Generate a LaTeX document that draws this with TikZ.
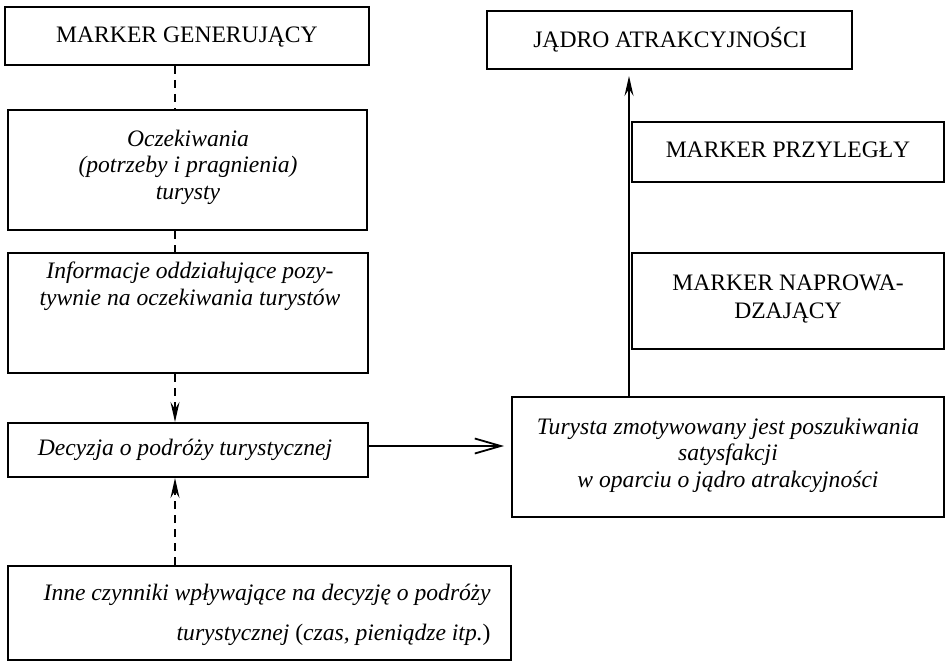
\documentclass[tikz,border=0pt]{standalone}
\usepackage{fontspec}
\setmainfont{Liberation Serif}
\usetikzlibrary{arrows.meta}
\newcommand\tstrut{\rule{0pt}{12pt}}
\begin{document}
\begin{tikzpicture}[x=0.5pt,y=-0.5pt,
  box/.style={draw, line width=1pt, fill=white, inner sep=0pt},
  txt/.style={inner sep=0pt, align=center, anchor=north},
  lsk/.style={font=\fontsize{11.8}{#1}\selectfont},
  dashline/.style={line width=0.9pt, dash pattern=on 4pt off 3pt},
  solidline/.style={line width=0.9pt},
  tipa/.style={-{Stealth[length=10pt,width=4.5pt,inset=3.5pt]}},
  tipb/.style={-{Straight Barb[length=13pt,width=7.5pt]}}]
\useasboundingbox (0,0) rectangle (945,663);
% boxes
\node[box, minimum width=182pt, minimum height=29pt] (gen) at (187,36) {};
\node[box, minimum width=179.5pt, minimum height=60pt] (ocz) at (187.5,170) {};
\node[box, minimum width=180pt, minimum height=60pt] (inf) at (188,313) {};
\node[box, minimum width=180pt, minimum height=27pt] (dec) at (188,450) {};
\node[box, minimum width=251.5pt, minimum height=47pt] (inne) at (259.5,613) {};
\node[box, minimum width=182.5pt, minimum height=29pt] (jad) at (669.5,40) {};
\node[box, minimum width=156pt, minimum height=30pt] (prz) at (788,152) {};
\node[box, minimum width=156pt, minimum height=48pt] (nap) at (788,301) {};
\node[box, minimum width=216pt, minimum height=60pt] (tur) at (728,457) {};
% texts
\node[txt, lsk=14] (genT) at (187,18) {\tstrut MARKER GENERUJĄCY};
\node[txt, lsk=13.25] (oczT) at (188,122) {\tstrut\itshape Oczekiwania\\\itshape (potrzeby i pragnienia)\\\itshape turysty};
\node[txt, lsk=13.5] (infT) at (190,254) {\tstrut\itshape Informacje oddziałujące pozy-\\\itshape tywnie na oczekiwania turystów};
\node[txt, lsk=14] (decT) at (185,431) {\tstrut\itshape Decyzja o podróży turystycznej};
\node[txt, lsk=20, align=right, anchor=north east] (inneT) at (491,576) {\tstrut\itshape Inne czynniki wpływające na decyzję o podróży\\\itshape turystycznej \textup{(}czas, pieniądze itp.\textup{)}};
\node[txt, lsk=14] (jadT) at (670,23) {\tstrut JĄDRO ATRAKCYJNOŚCI};
\node[txt, lsk=14] (przT) at (788,133) {\tstrut MARKER PRZYLEGŁY};
\node[txt, lsk=14] (napT) at (788,266) {\tstrut MARKER NAPROWA-\\DZAJĄCY};
\node[txt, lsk=13.25] (turT) at (728,410) {\tstrut\itshape Turysta zmotywowany jest poszukiwania\\\itshape satysfakcji\\\itshape w oparciu o jądro atrakcyjności};
% connectors
\coordinate (xl) at (175,0);
\coordinate (xr) at (629,0);
\draw[dashline] (gen.south -| xl) -- (ocz.north -| xl);
\draw[dashline] (ocz.south -| xl) -- (inf.north -| xl);
\draw[dashline, tipa] (inf.south -| xl) -- (dec.north -| xl);
\draw[dashline, tipa] (inne.north -| xl) -- (dec.south -| xl);
\draw[solidline, tipb, shorten >=3.5pt] ([yshift=2pt]dec.east) -- ([yshift=2pt]dec.east -| tur.west);
\draw[solidline, tipa, shorten >=3pt] (tur.north -| xr) -- (jad.south -| xr);
\end{tikzpicture}
\end{document}
